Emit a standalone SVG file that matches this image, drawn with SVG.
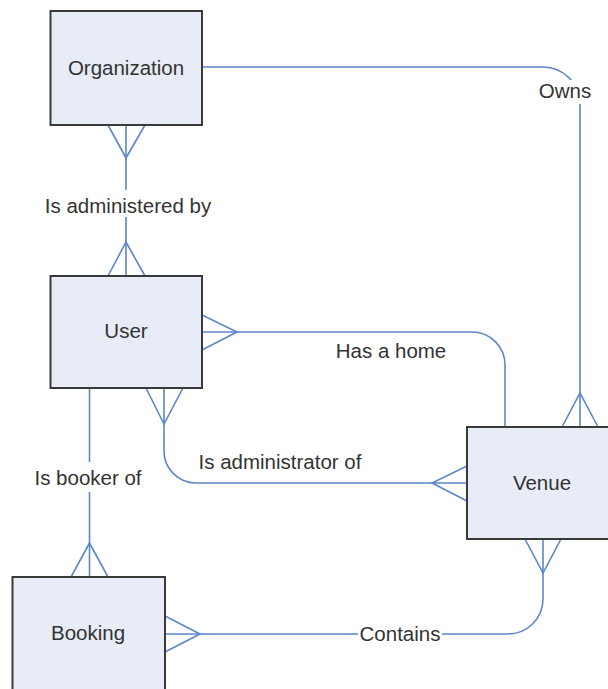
<svg xmlns="http://www.w3.org/2000/svg" width="608" height="689" viewBox="0 0 608 689">
<defs>
<style>
.box{fill:#e8ecf6;stroke:#3a3a3a;stroke-width:2}
.shadow{fill:#bdbdbd}
.ln{fill:none;stroke:#5b87c9;stroke-width:1.6}
.lbl{font-family:"Liberation Sans",Arial,sans-serif;font-size:20.5px;fill:#333333;text-anchor:middle}
.bg{fill:#ffffff}
</style>
</defs>
<rect width="608" height="689" fill="#ffffff"/>
<g id="connectors">
<path class="ln" d="M202,67 H543 A37,37 0 0 1 580,104 V427"/>
<path class="ln" d="M562,427 L580,393 L598,427"/>
<path class="ln" d="M126,125 V276"/>
<path class="ln" d="M108,125 L126,158 L145,125"/>
<path class="ln" d="M108,276 L126,242 L145,276"/>
<path class="ln" d="M202,332 H472 A33,33 0 0 1 505,365 V427"/>
<path class="ln" d="M202,315 L237,332 L202,350"/>
<path class="ln" d="M164,388 V451 A32,32 0 0 0 196,483 H467"/>
<path class="ln" d="M146,388 L164,424 L183,388"/>
<path class="ln" d="M467,466 L432,483 L467,501"/>
<path class="ln" d="M89.5,388 V577"/>
<path class="ln" d="M71,577 L89.5,543 L108,577"/>
<path class="ln" d="M165,634 H508 A35,35 0 0 0 543,599 V539"/>
<path class="ln" d="M165,616 L200,634 L165,652"/>
<path class="ln" d="M525,539 L543,573 L561,539"/>
<rect class="bg" x="536" y="80" width="60" height="24"/>
<text class="lbl" x="565" y="98">Owns</text>
<rect class="bg" x="36" y="190" width="184" height="27"/>
<text class="lbl" x="128" y="213">Is administered by</text>
<rect class="bg" x="28" y="462" width="122" height="30"/>
<text class="lbl" x="88" y="485">Is booker of</text>
<rect class="bg" x="358" y="622" width="84" height="22"/>
<text class="lbl" x="400" y="641">Contains</text>
<text class="lbl" x="391" y="358">Has a home</text>
<text class="lbl" x="280" y="469">Is administrator of</text>
</g>
<g id="organization">
<rect class="box" x="50.5" y="11" width="151.5" height="114"/>
<text class="lbl" x="126" y="75">Organization</text>
</g>
<g id="user">
<rect class="box" x="50.5" y="276" width="151.5" height="112"/>
<text class="lbl" x="126" y="338">User</text>
</g>
<g id="venue">
<rect class="box" x="467" y="427" width="152" height="112"/>
<text class="lbl" x="542" y="490">Venue</text>
</g>
<g id="booking">
<rect class="box" x="12.5" y="577" width="152.5" height="120"/>
<text class="lbl" x="88" y="640">Booking</text>
</g>
</svg>
